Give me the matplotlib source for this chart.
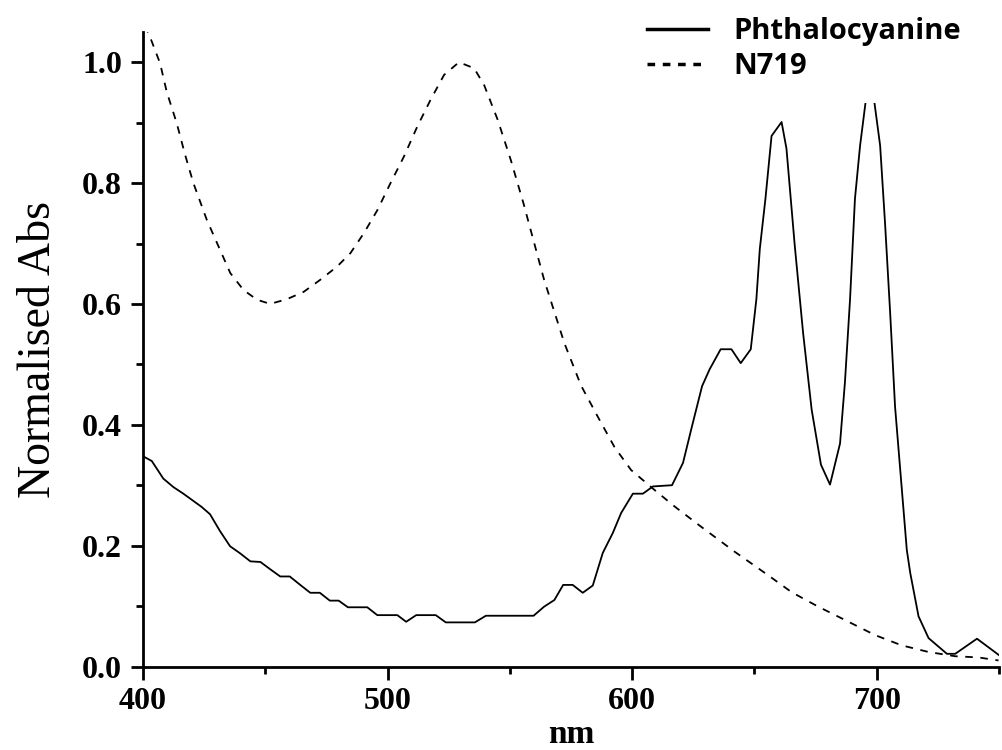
import numpy as np
import matplotlib
matplotlib.use("Agg")
import matplotlib.pyplot as plt
from matplotlib.ticker import MultipleLocator, FormatStrFormatter

# Phthalocyanine (solid)
pc_nm = [400, 403.6, 408.3, 412.4, 416.5, 420.6, 424, 427.4, 431.5, 435.6,
         439.8, 443.9, 448, 452, 456.1, 460, 464.3, 468.4, 472.3, 476.4,
         480, 483.8, 491.7, 495.8, 504, 507.6, 511.7, 519.7, 523.8, 535.7,
         540.2, 559.7, 564, 568.2, 571.8, 575.7, 579.8, 583.9, 588, 592.1,
         595.5, 600.3, 604.4, 608.5, 616.3, 620.8, 624.5, 628.6, 631.7, 636.2,
         640.6, 644.4, 648.5, 650.8, 652.2, 654.5, 657, 661.1, 663.1, 666.5,
         669.9, 673.4, 677.2, 680.9, 685, 687, 689.1, 691.1, 693.2, 697.2,
         701.4, 703.4, 705.5, 707.5, 712.3, 713.7, 717.1, 721.2, 728.7, 732.1,
         741, 750.6]
pc_abs = [0.348, 0.34, 0.311, 0.297, 0.286, 0.274, 0.264, 0.252, 0.224, 0.199,
          0.187, 0.174, 0.173, 0.161, 0.149, 0.149, 0.135, 0.122, 0.122, 0.109,
          0.109, 0.098, 0.098, 0.085, 0.085, 0.074, 0.085, 0.085, 0.073, 0.073,
          0.084, 0.084, 0.099, 0.11, 0.135, 0.135, 0.122, 0.134, 0.188, 0.221,
          0.254, 0.286, 0.286, 0.298, 0.3, 0.337, 0.398, 0.464, 0.492, 0.525,
          0.525, 0.502, 0.525, 0.608, 0.691, 0.774, 0.878, 0.901, 0.857, 0.696,
          0.552, 0.425, 0.334, 0.301, 0.369, 0.47, 0.608, 0.774, 0.862, 0.99,
          0.862, 0.734, 0.585, 0.43, 0.193, 0.155, 0.083, 0.047, 0.021, 0.021,
          0.046, 0.017]

# N719 (dashed)
n7_nm = [400.5, 402.2, 407, 409.7, 413.8, 417.2, 420.6, 426.1, 430.9, 435.7,
         441.1, 446.6, 452, 458.9, 465.7, 472.5, 479.4, 484.8, 490.3, 495.8,
         501.2, 506.7, 512.2, 517.6, 523.1, 529.2, 535.4, 539.5, 545, 550.4,
         555.6, 564, 572.3, 579.1, 586, 592.8, 599.6, 609.2, 617.3,
         628.3, 641.9, 655.6, 665.2, 676.1, 687, 699.3, 710.2, 721.2, 732.1,
         741.6, 749.8]
n7_abs = [1.06, 1.049, 0.998, 0.951, 0.899, 0.847, 0.8, 0.739, 0.695, 0.651,
          0.623, 0.607, 0.6, 0.608, 0.62, 0.64, 0.662, 0.684, 0.717, 0.755,
          0.8, 0.844, 0.894, 0.938, 0.979, 1.0, 0.99, 0.962, 0.905, 0.838,
          0.766, 0.64, 0.535, 0.465, 0.413, 0.363, 0.325, 0.292, 0.265,
          0.231, 0.19, 0.151, 0.123, 0.099, 0.077, 0.052, 0.035, 0.024, 0.017,
          0.015, 0.01]

fig = plt.figure(figsize=(10.02, 7.5), dpi=100)
ax = fig.add_axes([143 / 1002, 1 - 666.5 / 750, 856 / 1002, (666.5 - 32) / 750])

ax.plot(pc_nm, pc_abs, color='black', lw=1.3, label='Phthalocyanine')
ax.plot(n7_nm, n7_abs, color='black', lw=1.3, dashes=(4.2, 4.2), label='N719')

ax.set_xlim(400, 750)
ax.set_ylim(0, 1.05)
ax.xaxis.set_major_locator(MultipleLocator(100))
ax.xaxis.set_minor_locator(MultipleLocator(50))
ax.yaxis.set_major_locator(MultipleLocator(0.2))
ax.yaxis.set_minor_locator(MultipleLocator(0.1))
ax.yaxis.set_major_formatter(FormatStrFormatter('%.1f'))

for s in ['top', 'right']:
    ax.spines[s].set_visible(False)
for s in ['left', 'bottom']:
    ax.spines[s].set_linewidth(2)

ax.tick_params(which='major', direction='out', length=9, width=2, pad=6)
ax.tick_params(which='minor', direction='out', length=5, width=2)
for lab in ax.get_xticklabels() + ax.get_yticklabels():
    lab.set_fontfamily('Liberation Serif')
    lab.set_fontweight('bold')
    lab.set_fontsize(23)

ax.set_xlabel('nm', family='Liberation Serif', fontweight='bold', fontsize=24, labelpad=2)
ax.set_ylabel('Normalised Abs', family='Liberation Serif', fontsize=33, labelpad=16)

# opaque legend box, it hides the top of the 697 nm peak like in the original
leg = ax.legend(loc='upper right', bbox_to_anchor=(997 / 1002, 1 + 19 / 750),
                bbox_transform=fig.transFigure, frameon=True,
                prop={'family': 'Open Sans', 'weight': 'bold', 'size': 21},
                handlelength=2.1, handletextpad=0.85, labelspacing=0.2,
                borderpad=0.75, fancybox=False)
leg.get_frame().set_facecolor('white')
leg.get_frame().set_edgecolor('none')
leg.get_frame().set_alpha(1)
for h in leg.get_lines():
    h.set_linewidth(2.5)
leg.get_lines()[1].set_dashes((2.2, 2.2))

fig.savefig('out.png', dpi=100)
